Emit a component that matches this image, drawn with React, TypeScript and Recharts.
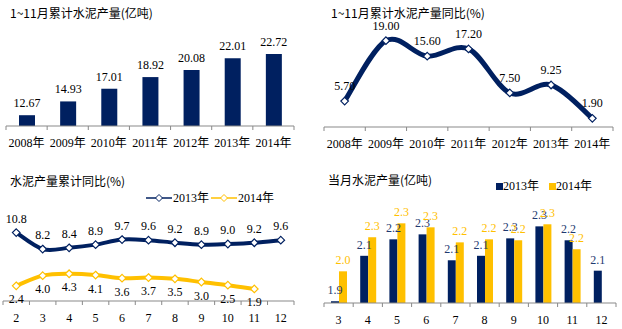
import React from 'react';
import { BarChart, Bar, LineChart, Line, XAxis, YAxis, LabelList } from 'recharts';

const NAVY = '#002060';
const GOLD = '#FFC000';
const AXIS = '#898989';
const SERIF = "'Liberation Serif', 'Noto Sans CJK SC', serif";
const SANS = "'Noto Sans CJK SC', 'Noto Sans', sans-serif";

// 1~11月累计水泥产量(亿吨)
const years = ['2008年', '2009年', '2010年', '2011年', '2012年', '2013年', '2014年'];
const cumOutput = [12.67, 14.93, 17.01, 18.92, 20.08, 22.01, 22.72];
// 1~11月累计水泥产量同比(%)
const cumGrowth = [5.7, 19.0, 15.6, 17.2, 7.5, 9.25, 1.9];
// 水泥产量累计同比(%)
const growthMonths = ['2', '3', '4', '5', '6', '7', '8', '9', '10', '11', '12'];
const growth2013 = [10.8, 8.2, 8.4, 8.9, 9.7, 9.6, 9.2, 8.9, 9.0, 9.2, 9.6];
const growth2014 = [2.4, 4.0, 4.3, 4.1, 3.6, 3.7, 3.5, 3.0, 2.5, 1.9, null];
// 当月水泥产量(亿吨)
const outputMonths = ['3', '4', '5', '6', '7', '8', '9', '10', '11', '12'];
const monthly2013 = [1.861, 2.145, 2.248, 2.279, 2.117, 2.145, 2.254, 2.329, 2.242, 2.052];
const monthly2014 = [2.048, 2.261, 2.348, 2.323, 2.229, 2.248, 2.242, 2.342, 2.186, null];

const yearData = years.map((y, i) => ({ year: y, output: cumOutput[i], growth: cumGrowth[i] }));
const growthData = growthMonths.map((m, i) => ({ month: m, y2013: growth2013[i], y2014: growth2014[i] }));
const monthData = outputMonths.map((m, i) => ({ month: m, y2013: monthly2013[i], y2014: monthly2014[i] }));

// Excel style smoothed line (Catmull-Rom)
const smoothCurve = (context: any) => {
  let pts: number[][] = [];
  return {
    areaStart() {},
    areaEnd() {},
    lineStart() { pts = []; },
    point(x: number, y: number) { pts.push([x, y]); },
    lineEnd() {
      const n = pts.length;
      if (!n) return;
      context.moveTo(pts[0][0], pts[0][1]);
      for (let i = 0; i < n - 1; i++) {
        const p0 = pts[Math.max(i - 1, 0)];
        const p1 = pts[i];
        const p2 = pts[i + 1];
        const p3 = pts[Math.min(i + 2, n - 1)];
        context.bezierCurveTo(
          p1[0] + (p2[0] - p0[0]) / 6, p1[1] + (p2[1] - p0[1]) / 6,
          p2[0] - (p3[0] - p1[0]) / 6, p2[1] - (p3[1] - p1[1]) / 6,
          p2[0], p2[1]
        );
      }
    },
  };
};

const boundaryTick = (axisY: number, band: number, count: number) => (props: any) => {
  const { x, payload, index } = props;
  return (
    <g>
      <line x1={x - band / 2} x2={x - band / 2} y1={axisY} y2={axisY + 4} stroke={AXIS} />
      {index === count - 1 && (
        <line x1={x + band / 2} x2={x + band / 2} y1={axisY} y2={axisY + 4} stroke={AXIS} />
      )}
      <text x={x} y={axisY + 21} textAnchor="middle" fontSize={12} fontFamily={SERIF} fill="#000">
        {payload.value}
      </text>
    </g>
  );
};

const diamond = (color: string) => (props: any) => {
  const { cx, cy, index, value } = props;
  if (cx == null || cy == null || value == null) return <g key={index} />;
  const r = 3.8;
  return (
    <polygon
      key={index}
      points={`${cx},${cy - r} ${cx + r},${cy} ${cx},${cy + r} ${cx - r},${cy}`}
      fill="#fff"
      stroke={color}
      strokeWidth={1.2}
    />
  );
};

const fmt = (d: number) => (v: any) => (v == null ? '' : Number(v).toFixed(d));

const Title = ({ left, top, text }: { left: number; top: number; text: string }) => (
  <div style={{ position: 'absolute', left, top, fontFamily: SANS, fontSize: 12, lineHeight: '15px', color: '#000', whiteSpace: 'nowrap' }}>
    {text}
  </div>
);

const LineLegend = ({ left, top }: { left: number; top: number }) => (
  <div style={{ position: 'absolute', left, top, display: 'flex', alignItems: 'center', fontFamily: SERIF, fontSize: 12, lineHeight: '14px' }}>
    {[{ name: '2013年', color: NAVY }, { name: '2014年', color: GOLD }].map((s) => (
      <div key={s.name} style={{ display: 'flex', alignItems: 'center', marginRight: 2 }}>
        <svg width={26} height={10}>
          <line x1={0} x2={26} y1={5} y2={5} stroke={s.color} strokeWidth={1.5} />
          <polygon points="13,1.5 16.5,5 13,8.5 9.5,5" fill="#fff" stroke={s.color} strokeWidth={1} />
        </svg>
        <span style={{ marginLeft: 1 }}>{s.name}</span>
      </div>
    ))}
  </div>
);

const BarLegend = ({ left, top }: { left: number; top: number }) => (
  <div style={{ position: 'absolute', left, top, display: 'flex', alignItems: 'center', fontFamily: SERIF, fontSize: 12, lineHeight: '14px' }}>
    {[{ name: '2013年', color: NAVY }, { name: '2014年', color: GOLD }].map((s) => (
      <div key={s.name} style={{ display: 'flex', alignItems: 'center', marginRight: 10 }}>
        <div style={{ width: 7, height: 7, background: s.color }} />
        <span>{s.name}</span>
      </div>
    ))}
  </div>
);

export default function App() {
  return (
    <div style={{ position: 'absolute', left: 0, top: 0, width: 622, height: 329, background: '#fff', overflow: 'hidden' }}>
      {/* top left */}
      <div style={{ position: 'absolute', left: 0, top: 0 }}>
        <BarChart width={311} height={165} data={yearData} margin={{ top: 40, right: 17, left: 6, bottom: 9 }}>
          <XAxis dataKey="year" height={30} interval={0} stroke={AXIS} tickLine={false} tick={boundaryTick(126, 288 / 7, 7)} />
          <YAxis hide domain={[10.9, 25]} allowDataOverflow />
          <Bar dataKey="output" fill={NAVY} barSize={16} isAnimationActive={false}>
            <LabelList dataKey="output" position="top" offset={8} fill="#000" fontSize={12} fontFamily={SERIF} formatter={fmt(2)} />
          </Bar>
        </BarChart>
      </div>
      <Title left={10} top={5} text="1~11月累计水泥产量(亿吨)" />

      {/* top right */}
      <div style={{ position: 'absolute', left: 311, top: 0 }}>
        <LineChart width={311} height={165} data={yearData} margin={{ top: 18, right: 9, left: 13, bottom: 8 }}>
          <XAxis
            dataKey="year"
            height={30}
            interval={0}
            stroke={AXIS}
            tickLine={false}
            padding={{ left: 289 / 14, right: 289 / 14 }}
            tick={boundaryTick(127, 289 / 7, 7)}
          />
          <YAxis hide domain={[0, 24]} allowDataOverflow />
          <Line dataKey="growth" type={smoothCurve as any} stroke={NAVY} strokeWidth={5} dot={diamond(NAVY)} isAnimationActive={false}>
            <LabelList dataKey="growth" position="top" offset={11} fill="#000" fontSize={12} fontFamily={SERIF} formatter={fmt(2)} />
          </Line>
        </LineChart>
      </div>
      <Title left={331} top={5} text="1~11月累计水泥产量同比(%)" />

      {/* bottom left */}
      <div style={{ position: 'absolute', left: 0, top: 165 }}>
        <LineChart width={311} height={164} data={growthData} margin={{ top: 60, right: 17, left: 3, bottom: 3 }}>
          <XAxis
            dataKey="month"
            height={25}
            interval={0}
            stroke={AXIS}
            tickLine={false}
            padding={{ left: 291 / 22, right: 291 / 22 }}
            tick={boundaryTick(136, 291 / 11, 11)}
          />
          <YAxis hide domain={[0, 12]} allowDataOverflow />
          <Line dataKey="y2013" name="2013年" type={smoothCurve as any} stroke={NAVY} strokeWidth={4} dot={diamond(NAVY)} isAnimationActive={false}>
            <LabelList dataKey="y2013" position="top" offset={10} fill="#000" fontSize={12} fontFamily={SERIF} formatter={fmt(1)} />
          </Line>
          <Line dataKey="y2014" name="2014年" type={smoothCurve as any} stroke={GOLD} strokeWidth={4} dot={diamond(GOLD)} isAnimationActive={false}>
            <LabelList dataKey="y2014" position="bottom" offset={9} fill="#000" fontSize={12} fontFamily={SERIF} formatter={fmt(1)} />
          </Line>
        </LineChart>
      </div>
      <Title left={10} top={173} text="水泥产量累计同比(%)" />
      <LineLegend left={146} top={191} />

      {/* bottom right */}
      <div style={{ position: 'absolute', left: 311, top: 165 }}>
        <BarChart width={311} height={164} data={monthData} margin={{ top: 42, right: 6, left: 13, bottom: 1 }} barGap={0}>
          <XAxis dataKey="month" height={25} interval={0} stroke={AXIS} tickLine={false} tick={boundaryTick(138, 292 / 10, 10)} />
          <YAxis hide domain={[1.85, 2.45]} allowDataOverflow />
          <Bar dataKey="y2013" fill={NAVY} barSize={8} isAnimationActive={false}>
            <LabelList dataKey="y2013" position="top" offset={7} fill="#1F3A70" fontSize={12} fontFamily={SERIF} formatter={fmt(1)} />
          </Bar>
          <Bar dataKey="y2014" fill={GOLD} barSize={8} isAnimationActive={false}>
            <LabelList dataKey="y2014" position="top" offset={7} fill={GOLD} fontSize={12} fontFamily={SERIF} formatter={fmt(1)} />
          </Bar>
        </BarChart>
      </div>
      <Title left={328} top={172} text="当月水泥产量(亿吨)" />
      <BarLegend left={496} top={179} />
    </div>
  );
}
